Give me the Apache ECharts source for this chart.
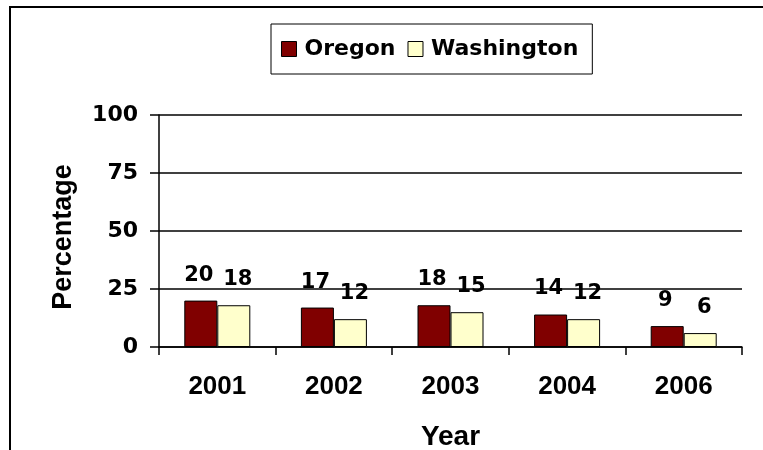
<!DOCTYPE html>
<html>
<head>
<meta charset="utf-8">
<script src="https://cdn.jsdelivr.net/npm/echarts@6/dist/echarts.min.js"></script>
<style>html,body{margin:0;padding:0;background:#fff}#c{width:763px;height:450px}</style>
</head>
<body>
<div id="c"></div>
<script>
var categories = ['2001', '2002', '2003', '2004', '2006'];
var oregon = [20, 17, 18, 14, 9];
var washington = [18, 12, 15, 12, 6];
var yTicks = [0, 25, 50, 75, 100];

var chart = echarts.init(document.getElementById('c'), null, {renderer: 'canvas'});
var labelFont = {fontFamily: 'DejaVu Sans', fontWeight: 'bold', fontSize: 21, color: '#000'};
chart.setOption({
  backgroundColor: '#fff',
  animation: false,
  graphic: [{
    type: 'rect', shape: {x: 10, y: 7, width: 800, height: 500},
    style: {fill: 'none', stroke: '#000', lineWidth: 2}, z: 0
  }],
  legend: {
    left: 271, top: 24,
    padding: [14, 14, 14, 10],
    itemGap: 12,
    itemWidth: 15, itemHeight: 15,
    borderColor: '#000', borderWidth: 1,
    icon: 'rect',
    itemStyle: {borderColor: '#000', borderWidth: 1},
    textStyle: {fontFamily: 'DejaVu Sans', fontWeight: 'bold', fontSize: 22, color: '#000', padding: [0, 0, 0, 3]},
    data: ['Oregon', 'Washington']
  },
  grid: {left: 159, right: 21, top: 115, bottom: 103, containLabel: false, outerBoundsMode: 'none'},
  xAxis: {
    type: 'category',
    data: categories,
    name: 'Year',
    nameLocation: 'middle',
    nameGap: 76,
    nameTextStyle: {fontFamily: 'Liberation Sans', fontWeight: 'bold', fontSize: 28, color: '#000'},
    axisLine: {lineStyle: {color: '#000', width: 1.5}},
    axisTick: {show: true, length: 8, lineStyle: {color: '#000', width: 1.5}},
    axisLabel: {margin: 27, fontFamily: 'Liberation Sans', fontWeight: 'bold', fontSize: 26, color: '#000'}
  },
  yAxis: {
    type: 'value',
    min: yTicks[0], max: yTicks[yTicks.length - 1], interval: 25,
    name: 'Percentage',
    nameLocation: 'middle',
    nameGap: 82,
    nameRotate: 90,
    nameTextStyle: {fontFamily: 'Liberation Sans', fontWeight: 'bold', fontSize: 27, color: '#000', padding: [0, 0, 0, -12]},
    axisLine: {show: true, lineStyle: {color: '#000', width: 1.5}},
    axisTick: {show: true, length: 9, lineStyle: {color: '#000', width: 1.5}},
    axisLabel: {margin: 21, fontFamily: 'DejaVu Sans', fontWeight: 'bold', fontSize: 22, color: '#000'},
    splitLine: {show: true, lineStyle: {color: '#000', width: 1.5}}
  },
  series: [{
    name: 'Oregon', type: 'bar', data: oregon,
    barWidth: 33, barGap: '0%',
    itemStyle: {color: '#800000', borderColor: '#000', borderWidth: 1},
    label: Object.assign({show: true, position: 'top', distance: 15, offset: [-2, 0]}, labelFont)
  }, {
    name: 'Washington', type: 'bar', data: washington,
    barWidth: 33, barGap: '0%',
    itemStyle: {color: '#FFFFCC', borderColor: '#000', borderWidth: 1},
    label: Object.assign({show: true, position: 'top', distance: 15, offset: [4, 0]}, labelFont)
  }]
});
</script>
</body>
</html>
